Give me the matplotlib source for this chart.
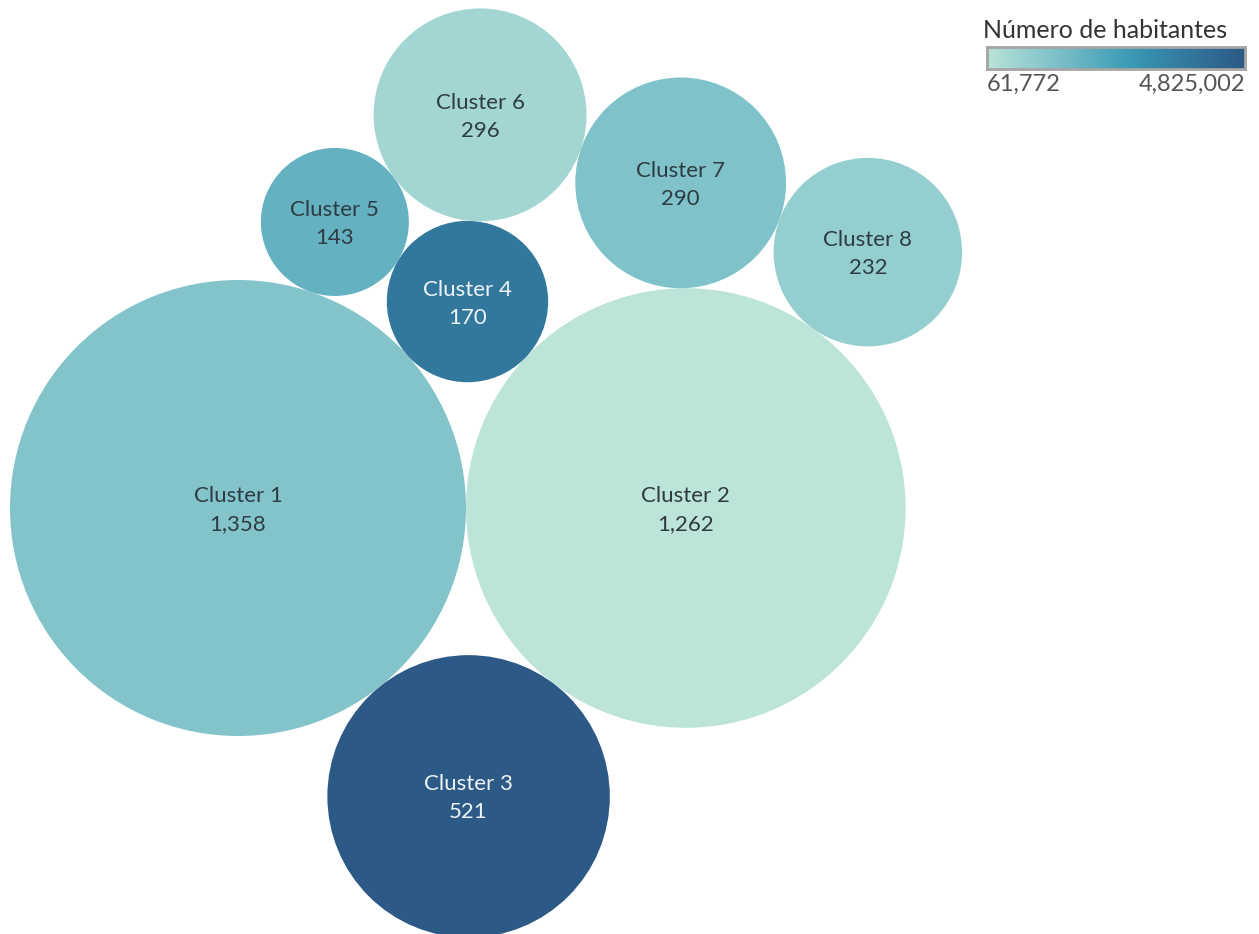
import numpy as np
import matplotlib.pyplot as plt
from matplotlib.patches import Circle
from matplotlib.colors import LinearSegmentedColormap, Normalize

# datos
clusters = ['Cluster 1', 'Cluster 2', 'Cluster 3', 'Cluster 4',
            'Cluster 5', 'Cluster 6', 'Cluster 7', 'Cluster 8']
municipios = [1358, 1262, 521, 170, 143, 296, 290, 232]
habitantes = [1205000, 61772, 4825002, 3777000, 1872000, 538000, 1300000, 824000]
hab_min, hab_max = 61772, 4825002

# paleta azul-verde azulado (Tableau Blue-Teal)
blue_teal = ["#bce4d8", "#aedcd5", "#a1d5d2", "#95cecf", "#89c8cc", "#7ec1ca",
             "#72bac6", "#66b2c2", "#59acbe", "#4ba5ba", "#419eb6", "#3b96b2",
             "#358ead", "#3586a7", "#347ea1", "#32779b", "#316f96", "#2f6790",
             "#2d608a", "#2c5985"]
cmap = LinearSegmentedColormap.from_list('blue_teal', blue_teal)
norm = Normalize(hab_min, hab_max)

# radio proporcional a la raiz del valor
k = 228 / np.sqrt(1358)
radios = [k * np.sqrt(v) for v in municipios]


def tangente(ca, ra, cb, rb, r, lado):
    # centro de un circulo de radio r tangente a A y B
    ca, cb = np.array(ca), np.array(cb)
    d = np.linalg.norm(cb - ca)
    da, db = ra + r, rb + r
    x = (da ** 2 - db ** 2 + d ** 2) / (2 * d)
    h = np.sqrt(max(da ** 2 - x ** 2, 0))
    u = (cb - ca) / d
    perp = np.array([-u[1], u[0]])
    return ca + x * u + lado * h * perp


# empaquetado: cada circulo tangente a dos anteriores
centros = [None] * 8
centros[0] = np.array([238.0, 508.0])
centros[1] = centros[0] + np.array([radios[0] + radios[1], 0])
orden = [(2, 0, 1, 1), (3, 0, 1, -1), (4, 0, 3, -1), (5, 4, 3, -1),
         (6, 5, 1, -1), (7, 6, 1, -1)]
for i, a, b, lado in orden:
    centros[i] = tangente(centros[a], radios[a], centros[b], radios[b], radios[i], lado)

fig = plt.figure(figsize=(12.59, 9.34), dpi=100)
ax = fig.add_axes([0, 0, 1, 1])
ax.set_xlim(0, 1259)
ax.set_ylim(934, 0)
ax.axis('off')

font = ['Lato', 'DejaVu Sans']
for nombre, n, hab, c, r in zip(clusters, municipios, habitantes, centros, radios):
    t = norm(hab)
    ax.add_patch(Circle(c, r, facecolor=cmap(t), edgecolor='none'))
    col = '#eef3f6' if t > 0.6 else '#2f3b42'
    ax.text(c[0], c[1] + 2, f'{nombre}\n{n:,}', ha='center', va='center',
            fontsize=16, color=col, family=font, linespacing=1.5)

# leyenda de color
fig.text(983 / 1259, 1 - 30 / 934, 'Número de habitantes', ha='left', va='center',
         fontsize=18, color='#333333', family=font)
cax = fig.add_axes([987 / 1259, 1 - 69 / 934, 258 / 1259, 22 / 934])
cax.imshow(np.linspace(0, 1, 256)[None, :], aspect='auto', cmap=cmap)
cax.set_xticks([])
cax.set_yticks([])
for s in cax.spines.values():
    s.set_edgecolor('#a5a5a5')
    s.set_linewidth(2)
fig.text(987 / 1259, 1 - 84 / 934, f'{hab_min:,}', ha='left', va='center',
         fontsize=17, color='#555555', family=font)
fig.text(1245 / 1259, 1 - 84 / 934, f'{hab_max:,}', ha='right', va='center',
         fontsize=17, color='#555555', family=font)

plt.savefig('out.png', dpi=100)
